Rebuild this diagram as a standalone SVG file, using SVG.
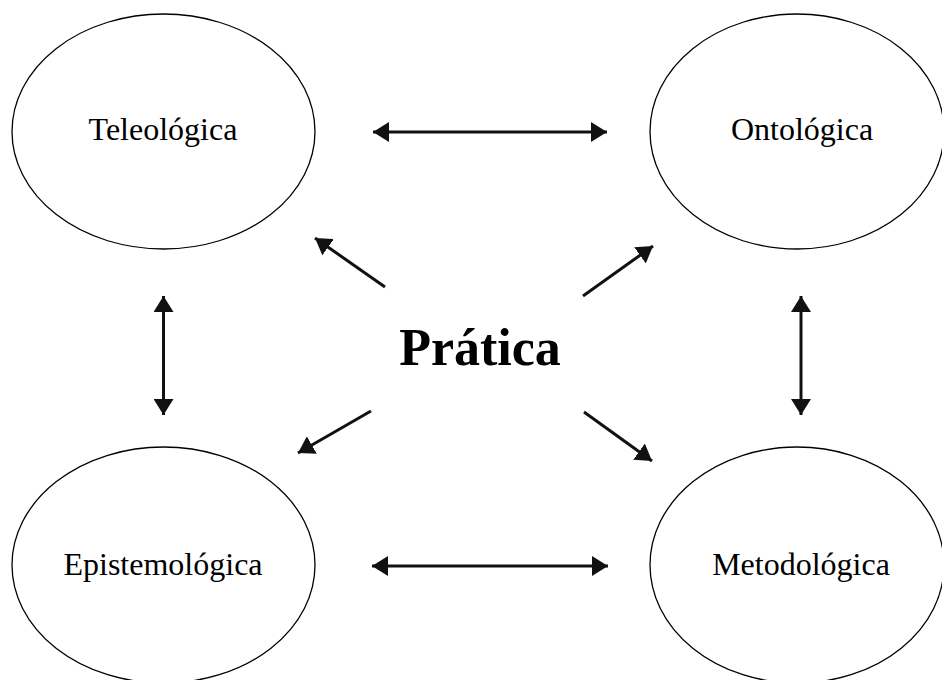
<svg xmlns="http://www.w3.org/2000/svg" width="942" height="680" viewBox="0 0 942 680">
<style>
.node ellipse { fill: #fff; stroke: #000; stroke-width: 1.3; }
.lbl { font-family: "Liberation Serif", "Times New Roman", serif; font-size: 32px; fill: #000; text-anchor: middle; }
.center { font-family: "Liberation Serif", "Times New Roman", serif; font-size: 52px; font-weight: bold; fill: #000; text-anchor: middle; }
.conn line { stroke: #111; stroke-width: 3; }
</style>
<defs>
<marker id="ah" viewBox="0 0 16 20" refX="16" refY="10" markerWidth="16" markerHeight="20" markerUnits="userSpaceOnUse" orient="auto-start-reverse">
<path d="M0,0 L16,10 L0,20 Z" fill="#111"/>
</marker>
</defs>
<rect width="942" height="680" fill="#fff"/>
<g id="teleologica" class="node">
<ellipse cx="163.5" cy="131.5" rx="151.5" ry="117.5"/>
<text class="lbl" x="163" y="140">Teleológica</text>
</g>
<g id="ontologica" class="node">
<ellipse cx="797" cy="131.5" rx="147" ry="117.5"/>
<text class="lbl" x="802" y="140">Ontológica</text>
</g>
<g id="epistemologica" class="node">
<ellipse cx="163.5" cy="565" rx="151.5" ry="118"/>
<text class="lbl" x="163" y="575">Epistemológica</text>
</g>
<g id="metodologica" class="node">
<ellipse cx="797" cy="565" rx="147" ry="118"/>
<text class="lbl" x="801" y="575">Metodológica</text>
</g>
<g id="pratica">
<text class="center" x="480" y="365">Prática</text>
</g>
<g id="connectors" class="conn">
<line x1="373" y1="132" x2="607" y2="132" marker-start="url(#ah)" marker-end="url(#ah)"/>
<line x1="372" y1="566" x2="608" y2="566" marker-start="url(#ah)" marker-end="url(#ah)"/>
<line x1="163.5" y1="296" x2="163.5" y2="415" marker-start="url(#ah)" marker-end="url(#ah)"/>
<line x1="801" y1="296" x2="801" y2="415" marker-start="url(#ah)" marker-end="url(#ah)"/>
<line x1="385" y1="287" x2="315" y2="238" marker-end="url(#ah)"/>
<line x1="583" y1="296" x2="653" y2="246" marker-end="url(#ah)"/>
<line x1="371" y1="411" x2="298" y2="453" marker-end="url(#ah)"/>
<line x1="584" y1="412" x2="652" y2="461" marker-end="url(#ah)"/>
</g>
</svg>
